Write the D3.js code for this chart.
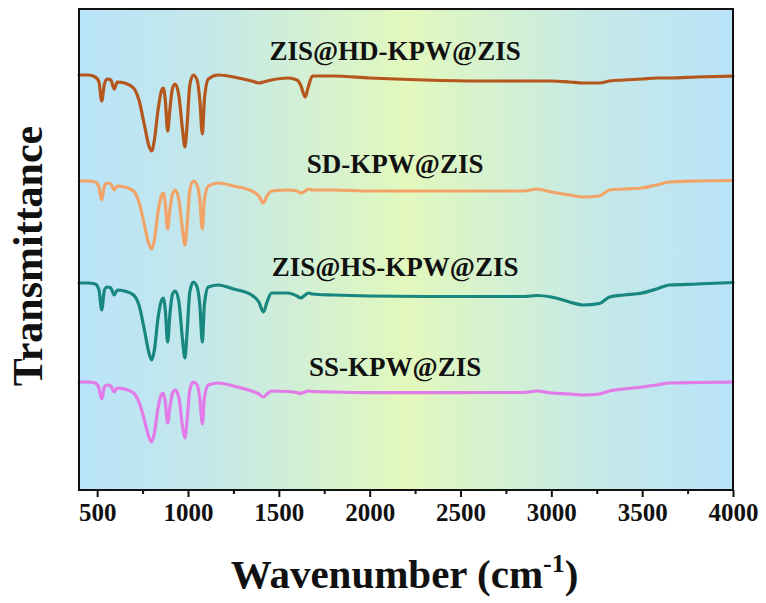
<!DOCTYPE html>
<html>
<head>
<meta charset="utf-8">
<script src="https://cdn.jsdelivr.net/npm/d3@7/dist/d3.min.js"></script>
<style>
  html, body { margin: 0; padding: 0; background: #fff; }
  svg { display: block; }
  text { font-family: "Liberation Serif", "Times New Roman", serif; font-weight: bold; fill: #111; }
</style>
</head>
<body>
<svg id="chart" width="766" height="603"></svg>
<script>
// FTIR spectra, offset-stacked (transmittance in arbitrary units)
const wavenumbers = [400, 450, 490, 510, 525, 540, 555, 575, 594, 610,
  650, 700, 730, 760, 785, 800, 815, 835, 855, 864,
  875, 888, 900, 915, 930, 950, 970, 983, 995, 1010,
  1029, 1050, 1065, 1079, 1090, 1112, 1166, 1250, 1350, 1390,
  1415, 1435, 1460, 1550, 1600, 1620, 1645, 1662, 1685, 1800,
  2000, 2300, 2600, 2850, 2920, 3000, 3100, 3175, 3265, 3320,
  3400, 3500, 3580, 3650, 3800, 4000];

const hdValues = [415, 415, 413, 408, 389, 406, 411, 410, 401, 408,
  407, 402, 390, 365, 344, 339, 350, 380, 400, 402,
  390, 359, 380, 402, 406, 394, 360, 343, 365, 405,
  415, 410, 390, 356, 390, 411, 415, 413, 409, 407,
  408, 409, 410, 412, 410, 405, 393, 403, 414, 414,
  412, 410, 409, 409, 409, 409, 408, 407, 407, 409,
  410, 411, 412, 412, 413, 414];

const sdValues = [309, 309, 308, 303, 290, 304, 307, 306, 300, 304,
  303, 299, 288, 265, 246, 241, 250, 278, 295, 297,
  286, 261, 280, 296, 300, 290, 260, 245, 265, 300,
  309, 305, 290, 261, 290, 304, 307, 304, 299, 294,
  287, 294, 299, 300, 299, 297, 299, 301, 300, 300,
  299, 299, 299, 299, 301, 298, 295, 293, 294, 300,
  301, 302, 305, 308, 309, 309.5];

const hsValues = [207, 207, 206, 200, 180, 200, 203, 202, 195, 200,
  199, 195, 185, 160, 137, 130, 140, 172, 190, 192,
  180, 148, 175, 196, 199, 188, 150, 132, 158, 198,
  208, 203, 185, 148, 185, 203, 205, 201, 195, 188,
  178, 188, 197, 197, 194, 192, 195, 197, 196, 195,
  194, 193.5, 193.5, 193.5, 194.5, 193, 188, 185, 186.5, 193,
  195, 197, 201, 205, 206, 207.5];

const ssValues = [108, 108, 107, 102, 91, 103, 105, 104, 98, 102,
  101, 97, 88, 70, 53, 48, 57, 82, 96, 97,
  88, 67, 82, 97, 100, 92, 63, 52, 70, 100,
  108, 105, 92, 66, 92, 105, 107, 104, 99, 96,
  93, 96, 99, 98.5, 97.5, 96.7, 98, 99, 98.5, 98,
  97.3, 97.3, 97.5, 97.5, 99, 97, 96, 95, 96, 99,
  101, 103, 105, 107, 107.5, 108];

const seriesNames = ["ZIS@HD-KPW@ZIS", "SD-KPW@ZIS", "ZIS@HS-KPW@ZIS", "SS-KPW@ZIS"];
const seriesColors = ["#b5571c", "#f2a468", "#17877f", "#e27ae8"];
// label anchor in data units: [wavenumber, transmittance]
const labelPositions = [[2140, 430], [2140, 317], [2140, 214], [2140, 114]];

const xTicks = [500, 1000, 1500, 2000, 2500, 3000, 3500, 4000];
const xMinorTicks = [750, 1250, 1750, 2250, 2750, 3250, 3750];

const seriesValues = [hdValues, sdValues, hsValues, ssValues];

const svg = d3.select("#chart");
const margin = { left: 79, right: 33, top: 9, bottom: 113 };
const W = 766, H = 603;
const plotW = W - margin.left - margin.right;
const plotH = H - margin.top - margin.bottom;

const x = d3.scaleLinear().domain([400, 4000]).range([margin.left, margin.left + plotW]);
const y = d3.scaleLinear().domain([0, 480]).range([margin.top + plotH, margin.top + plotH - 480]);

// background gradient across the plot area
const defs = svg.append("defs");
const grad = defs.append("linearGradient").attr("id", "bg").attr("x1", "0%").attr("x2", "100%").attr("y1", "0%").attr("y2", "0%");
[[0, "#b9e3f9"], [0.2, "#c4e8e9"], [0.5, "#e2f8bd"], [0.8, "#c5e9e8"], [1, "#b9e3f9"]]
  .forEach(([o, c]) => grad.append("stop").attr("offset", o).attr("stop-color", c));

svg.append("rect")
  .attr("x", margin.left).attr("y", margin.top)
  .attr("width", plotW).attr("height", plotH)
  .attr("fill", "url(#bg)");

const line = d3.line()
  .x(d => x(d[0]))
  .y(d => y(d[1]))
  .curve(d3.curveMonotoneX);

seriesValues.forEach((vals, i) => {
  const pts = wavenumbers.map((w, j) => [w, vals[j]]);
  svg.append("path")
    .attr("d", line(pts))
    .attr("fill", "none")
    .attr("stroke", seriesColors[i])
    .attr("stroke-width", 3.2)
    .attr("stroke-linejoin", "round")
    .attr("stroke-linecap", "round");
});

// series labels
seriesNames.forEach((name, i) => {
  svg.append("text")
    .attr("x", x(labelPositions[i][0]))
    .attr("y", y(labelPositions[i][1]))
    .attr("text-anchor", "middle")
    .attr("font-size", 27)
    .text(name);
});

// frame
svg.append("rect")
  .attr("x", margin.left).attr("y", margin.top)
  .attr("width", plotW).attr("height", plotH)
  .attr("fill", "none").attr("stroke", "#111").attr("stroke-width", 2);

// x axis
const xAxis = d3.axisBottom(x).tickValues(xTicks).tickSize(7).tickPadding(6).tickFormat(d3.format("d"));
const gx = svg.append("g").attr("transform", `translate(0,${margin.top + plotH})`).call(xAxis);
gx.select(".domain").remove();
gx.selectAll(".tick line").attr("stroke", "#111").attr("stroke-width", 2);
gx.selectAll(".tick text").attr("font-size", 25).attr("fill", "#111")
  .style("font-family", "'Liberation Serif', 'Times New Roman', serif").style("font-weight", "bold");

const gxm = svg.append("g").attr("transform", `translate(0,${margin.top + plotH})`)
  .call(d3.axisBottom(x).tickValues(xMinorTicks).tickSize(4).tickFormat(""));
gxm.select(".domain").remove();
gxm.selectAll(".tick line").attr("stroke", "#111").attr("stroke-width", 2);

// axis titles
const xt = svg.append("text")
  .attr("x", x(2192)).attr("y", 588)
  .attr("text-anchor", "middle")
  .attr("font-size", 41);
xt.append("tspan").text("Wavenumber (cm");
xt.append("tspan").attr("font-size", 26).attr("dy", -16).text("-1");
xt.append("tspan").attr("dy", 16).text(")");

svg.append("text")
  .attr("transform", `translate(42, 256) rotate(-90)`)
  .attr("text-anchor", "middle")
  .attr("font-size", 42)
  .text("Transmittance");
</script>
</body>
</html>
